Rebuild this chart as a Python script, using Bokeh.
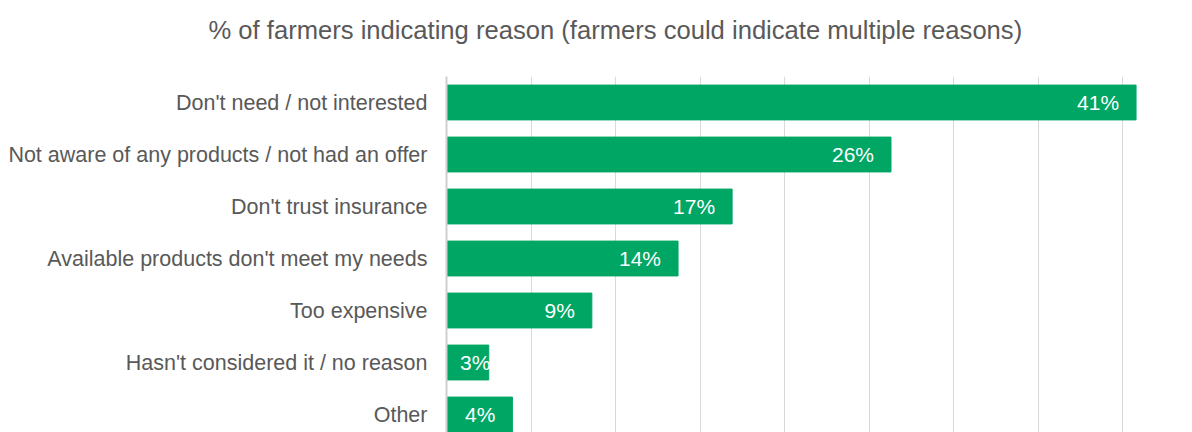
from bokeh.plotting import figure
from bokeh.models import ColumnDataSource, Range1d, FixedTicker, Title
from bokeh.core.properties import value
from bokeh.embed import file_html
from bokeh.resources import INLINE

title_text = "% of farmers indicating reason (farmers could indicate multiple reasons)"
categories = [
    "Don't need / not interested",
    "Not aware of any products / not had an offer",
    "Don't trust insurance",
    "Available products don't meet my needs",
    "Too expensive",
    "Hasn't considered it / no reason",
    "Other",
]
values = [40.8, 26.3, 16.9, 13.7, 8.6, 2.5, 3.9]
value_labels = ["41%", "26%", "17%", "14%", "9%", "3%", "4%"]

FONT = "Liberation Sans"
GREEN = "#00a664"
GREY = "#595959"

pos = list(range(len(categories)))
label_x = [max(v, 3.6) for v in values]
src = ColumnDataSource(dict(pos=pos, value=values, lab=value_labels, lx=label_x))

p = figure(width=1192, height=432, output_backend="svg", toolbar_location=None,
           x_range=Range1d(0, 44.14), y_range=Range1d(6.346, -0.5),
           x_axis_location=None, min_border_left=446, min_border_top=76,
           min_border_right=0, min_border_bottom=0)
p.outline_line_color = None
p.background_fill_color = "white"
p.border_fill_color = "white"

# spacer between title and plot frame
spacer = Title(text=" ", text_font_size="10px", standoff=15)
p.add_layout(spacer, "above")
p.title = Title(text=title_text, align="left", offset=-238, standoff=10,
                text_font=FONT, text_font_size="25.6px", text_color=GREY,
                text_font_style="normal")
p.title_location = "above"

p.hbar(y="pos", left=0, right="value", height=0.67, color=GREEN, source=src)
p.text(x="lx", y="pos", text="lab", source=src, text_align="right",
       text_baseline="middle", x_offset=-17, text_color="white",
       text_font=value(FONT), text_font_size="21px")

p.xgrid.ticker = FixedTicker(ticks=[0, 5, 10, 15, 20, 25, 30, 35, 40, 45])
p.xgrid.grid_line_color = "#d9d9d9"
p.xgrid.grid_line_width = 1
p.ygrid.grid_line_color = None

ya = p.yaxis[0]
ya.ticker = FixedTicker(ticks=pos)
ya.major_label_overrides = {i: c for i, c in zip(pos, categories)}
ya.major_tick_out = 0
ya.major_tick_in = 0
ya.minor_tick_out = 0
ya.minor_tick_in = 0
ya.major_label_standoff = 19
ya.axis_line_color = "#d0d0d0"
ya.axis_line_width = 2
ya.major_label_text_font = FONT
ya.major_label_text_font_size = "21.5px"
ya.major_label_text_color = GREY

open("out.html", "w").write(file_html(p, INLINE))
